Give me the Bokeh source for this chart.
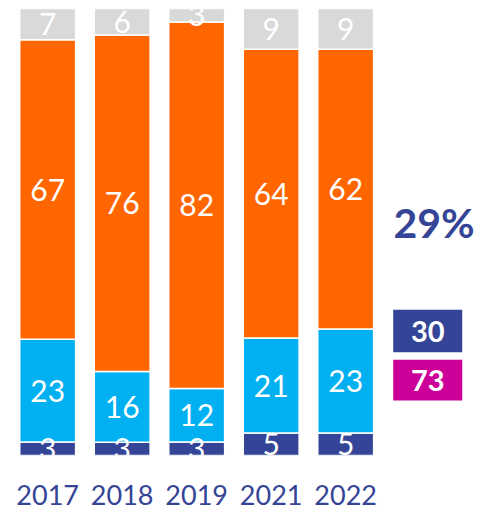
from bokeh.plotting import figure
from bokeh.models import ColumnDataSource, FixedTicker, Range1d
from bokeh.core.properties import value
from bokeh.embed import file_html
from bokeh.resources import INLINE
import numpy as np

years = ["2017", "2018", "2019", "2021", "2022"]
navy_vals = [3, 3, 3, 5, 5]
cyan_vals = [23, 16, 12, 21, 23]
orange_vals = [67, 76, 82, 64, 62]
grey_vals = [7, 6, 3, 9, 9]

headline = "29%"
box_values = ["30", "73"]

NAVY = "#344496"
CYAN = "#00B0F0"
ORANGE = "#FF6600"
GREY = "#D9D9D9"
MAGENTA = "#CC0099"

xs = list(range(len(years)))
series = ["navy", "cyan", "orange", "grey"]
colors = [NAVY, CYAN, ORANGE, GREY]

# 100% stacked: each bar is shown as shares of its own total
arr = np.array([navy_vals, cyan_vals, orange_vals, grey_vals], dtype=float)
shares = arr / arr.sum(axis=0) * 100
data = dict(x=xs)
for name, row in zip(series, shares):
    data[name] = list(row)
src = ColumnDataSource(data)

p = figure(frame_width=466, frame_height=447, output_backend="svg", toolbar_location=None,
           x_range=Range1d(-0.526, 5.729), y_range=Range1d(0, 100),
           min_border_left=8, min_border_right=8, min_border_top=8, min_border_bottom=0)
p.outline_line_color = None
p.grid.visible = False
p.yaxis.visible = False

p.vbar_stack(series, x="x", width=0.75, color=colors, line_color="white", line_width=1.5, source=src)

# labels in segment centers
cum = np.cumsum(shares, axis=0)
lx, ly, lt = [], [], []
for s in range(arr.shape[0]):
    for i in xs:
        lx.append(i)
        ly.append(cum[s, i] - shares[s, i] / 2)
        lt.append(str(int(arr[s, i])))
p.text(x=lx, y=ly, text=lt, text_color="white", text_align="center", text_baseline="middle",
       text_font=value("Lato"), text_font_size="30px")

# right-side summary
p.text(x=[5.185], y=[52.1], text=[headline], text_color=NAVY, text_align="center",
       text_baseline="middle", text_font=value("Lato"), text_font_size="41px", text_font_style="bold")
p.rect(x=[5.101, 5.101], y=[27.85, 16.85], width=69, height=[9.5, 9.1], width_units="screen",
       color=[NAVY, MAGENTA], line_color=None)
p.text(x=[5.101, 5.101], y=[27.85, 16.85], text=box_values, text_color="white", text_align="center",
       text_baseline="middle", text_font=value("Lato"), text_font_size="29px", text_font_style="bold")

ax = p.xaxis
ax.ticker = FixedTicker(ticks=xs)
ax.major_label_overrides = {i: y for i, y in zip(xs, years)}
ax.axis_line_color = None
ax.major_tick_line_color = None
ax.minor_tick_line_color = None
ax.major_tick_out = 0
ax.major_tick_in = 0
ax.major_label_standoff = 29
ax.major_label_text_font = "Lato"
ax.major_label_text_font_size = "27px"
ax.major_label_text_color = NAVY

open("out.html", "w").write(file_html(p, INLINE))
